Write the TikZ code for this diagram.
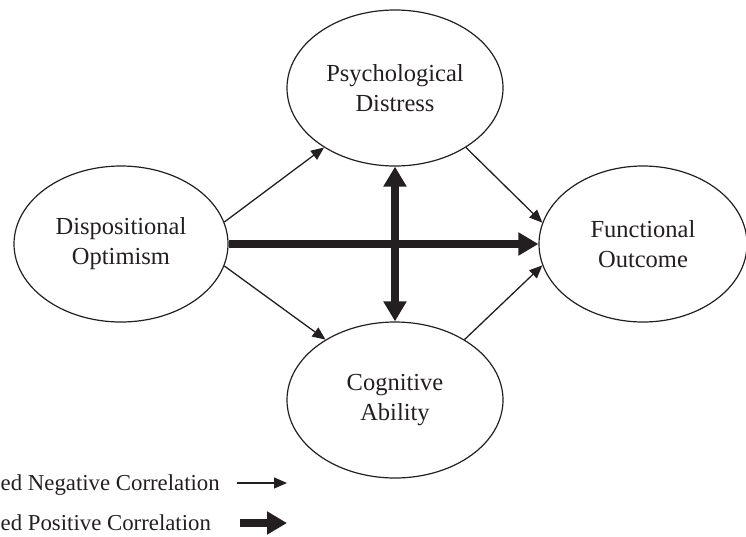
\documentclass[tikz,border=0pt]{standalone}
\usepackage{fontspec}
\setmainfont{Liberation Serif}
\usetikzlibrary{shapes.geometric,arrows.meta}
\definecolor{ink}{HTML}{231F20}
\tikzset{
  construct/.style={ellipse, draw=ink, line width=1.2pt, inner sep=0pt,
    minimum width=216pt, minimum height=156pt, align=center, text=ink,
    font=\fontsize{24.5}{30}\selectfont},
  thinarrow/.style={draw=ink, line width=1.3pt, -{Triangle[length=13pt,width=11pt]}},
  thickarrow/.style={draw=ink, line width=8pt, -{Triangle[length=20pt,width=22pt]}},
  thickboth/.style={draw=ink, line width=8pt, {Triangle[length=20pt,width=22pt]}-{Triangle[length=20pt,width=22pt]}},
  legendtext/.style={anchor=base west, text=ink, inner sep=0pt, font=\fontsize{22.8}{30}\selectfont}
}
\begin{document}
\begin{tikzpicture}[x=1pt,y=-1pt]
\useasboundingbox (0,0) rectangle (746,536);
\node[construct, minimum width=214pt] (disp) at (121,244) {Dispositional\\Optimism};
\node[construct] (psych) at (395,88) {Psychological\\Distress};
\node[construct] (cog) at (395,400) {Cognitive\\Ability};
\node[construct, minimum width=208pt] (func) at (643,244) {Functional\\Outcome};

\draw[thinarrow] (disp.12) -- (psych.220);
\draw[thinarrow] (disp.-12) -- (cog.139);
\draw[thinarrow] (psych.-40) -- (func.168);
\draw[thinarrow] (cog.41) -- (func.192);
\draw[thickarrow] (disp.east) -- (func.west);
\draw[thickboth] (psych.south) -- (cog.north);

\node[legendtext] (negtxt) at (0.5,490) {ed Negative Correlation};
\coordinate (neg1) at (237,483);
\coordinate (neg2) at (287,483);
\draw[thinarrow] (neg1) -- (neg2);
\node[legendtext] (postxt) at (0.5,530) {ed Positive Correlation};
\coordinate (pos1) at (240,523);
\coordinate (pos2) at (287,523);
\draw[thickarrow] (pos1) -- (pos2);
\end{tikzpicture}
\end{document}
